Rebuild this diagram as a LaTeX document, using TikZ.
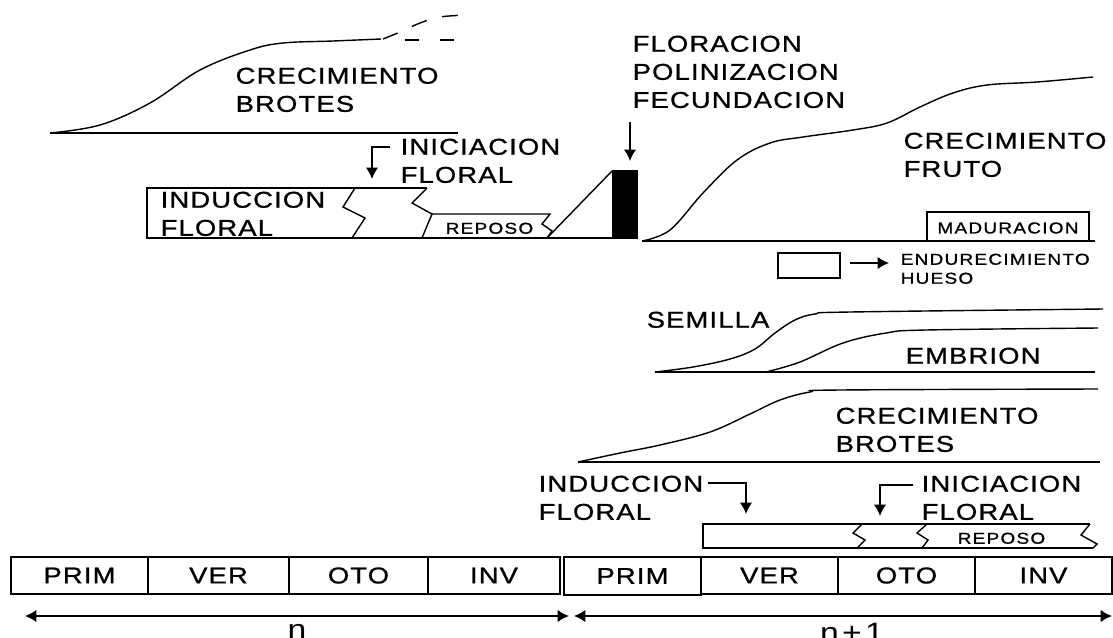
\documentclass[tikz,border=0pt]{standalone}
\usepackage{fontspec}
\usetikzlibrary{arrows.meta}
\newfontfamily\lblfam[FakeStretch=1.2,LetterSpace=5,FakeBold=1]{Liberation Sans}
\newfontfamily\smlfam[FakeStretch=1.2,LetterSpace=8,FakeBold=1]{Liberation Sans}
\newfontfamily\yrfam[FakeStretch=1.2,LetterSpace=12]{Liberation Sans}
\newcommand{\lblfont}{\lblfam\fontsize{13}{16}\selectfont}
\newcommand{\smlfont}{\smlfam\fontsize{9}{10.8}\selectfont}
\newcommand{\yrfont}{\yrfam\fontsize{16}{18}\selectfont}
\tikzset{
  lbl/.style={font=\lblfont,inner sep=0pt,align=left,anchor=north west},
  smllbl/.style={font=\smlfont,inner sep=0pt,align=left,anchor=north west},
  season/.style={font=\lblfont,inner sep=0pt},
  yearlbl/.style={font=\yrfont,inner sep=0pt,anchor=north},
  >={Latex[length=6.5pt,width=7pt]}
}

\begin{document}
\begin{tikzpicture}[x=0.02cm,y=-0.02cm,thick]
    \clip (0,0) rectangle (1113,637);

    % Draw shoot growth, year n
    \draw plot[smooth,tension=0.6] coordinates {(50,133) (100,125) (150,103) (200,70) (250,50) (283,43) (333,41) (381,39)};
    \draw (50,133) -- (458,133);
    \draw[dash pattern=on 9pt off 9pt] plot[smooth,tension=0.6] coordinates {(383,39) (400,32) (420,23) (440,17) (467,15)};
    \draw[dash pattern=on 8pt off 12pt] (405,40) -- (460,40);
    \node[lbl] (brotesA) at (235,67) {CRECIMIENTO\\BROTES};

    % Draw floral initiation, year n
    \node[lbl] (iniciacionA) at (400,138) {INICIACION\\FLORAL};
    \coordinate (iniA) at (390,147);
    \coordinate (iniTipA) at (372,179);
    \draw[->] (iniA) -| (iniTipA);

    % Draw induction box with breaks and rest
    \draw (427,188) -- (147,188) -- (147,238) -- (638,238);
    \draw (355,188) -- (343,207) -- (365,218) -- (352,238);
    \draw (427,188) -- (412,203) -- (432,214) -- (422,238);
    \draw (432,214) -- (550,214) -- (542,224) -- (552,231) -- (547,238);
    \node[lbl] (induccionA) at (160,191) {INDUCCION\\FLORAL};
    \node[smllbl] (reposoA) at (445,222) {REPOSO};

    % Draw flowering
    \draw (547,238) -- (612,171);
    \fill (612,170) rectangle (638,238);
    \node[lbl] (floracion) at (632,35) {FLORACION\\POLINIZACION\\FECUNDACION};
    \coordinate (florTop) at (630,122);
    \coordinate (florTip) at (630,161);
    \draw[->] (florTop) -- (florTip);

    % Draw fruit growth
    \draw plot[smooth,tension=0.6] coordinates {(642,241) (670,230) (703,193) (737,160) (770,143) (803,137) (853,130) (887,123) (920,107) (953,93) (987,85) (1037,82) (1093,77)};
    \draw (642,241) -- (1095,241);
    \node[lbl] (fruto) at (903,132) {CRECIMIENTO\\FRUTO};
    \draw (927,241) -- (927,212) -- (1089,212) -- (1089,241);
    \node[smllbl,anchor=center] (maduracion) at (1008,228) {MADURACION};

    % Draw pit hardening key
    \draw (778,253) rectangle (840,278);
    \coordinate (keyA) at (850,263);
    \coordinate (keyB) at (889,263);
    \draw[->] (keyA) -- (keyB);
    \node[smllbl] (hueso) at (900,253) {ENDURECIMIENTO\\HUESO};

    % Draw seed and embryo
    \draw plot[smooth,tension=0.6] coordinates {(655,372) (693,367) (730,359) (755,349) (775,333) (795,320) (815,314) (850,312) (1103,309)};
    \draw plot[smooth,tension=0.6] coordinates {(766,372) (800,362) (843,343) (886,333) (926,330) (1098,328)};
    \draw (655,372) -- (1095,372);
    \node[lbl] (semilla) at (646,311) {SEMILLA};
    \node[lbl] (embrion) at (905,347) {EMBRION};

    % Draw shoot growth, year n+1
    \draw plot[smooth,tension=0.6] coordinates {(578,462) (620,453) (660,445) (710,432) (750,414) (780,400) (810,392) (840,390) (1098,389)};
    \draw (578,462) -- (1100,462);
    \node[lbl] (brotesB) at (835,407) {CRECIMIENTO\\BROTES};

    % Draw induction and initiation, year n+1
    \node[lbl] (induccionB) at (538,475) {INDUCCION\\FLORAL};
    \coordinate (indB) at (708,483);
    \coordinate (indTipB) at (746,514);
    \draw[->] (indB) -| (indTipB);
    \node[lbl] (iniciacionB) at (921,475) {INICIACION\\FLORAL};
    \coordinate (iniB) at (913,485);
    \coordinate (iniTipB) at (880,516);
    \draw[->] (iniB) -| (iniTipB);

    % Draw rest box, year n+1
    \draw (1090,524) -- (703,524) -- (703,548) -- (1093,548);
    \draw (862,524) -- (853,533) -- (865,540) -- (857,548);
    \draw (927,524) -- (917,533) -- (928,540) -- (922,548);
    \draw (1090,524) -- (1081,535) -- (1097,544) -- (1093,548);
    \node[smllbl] (reposoB) at (957,532) {REPOSO};

    % Draw seasons
    \foreach \name/\xa/\xb [count=\i] in {PRIM/11/148,VER/148/289,OTO/289/428,INV/428/560}
      {\draw (\xa,557) rectangle (\xb,594);
       \node[season] (seasonA\i) at ({(\xa+\xb)/2},575.5) {\name};}
    \foreach \name/\xa/\xb [count=\i] in {VER/701/838,OTO/838/975,INV/975/1112}
      {\draw (\xa,557) rectangle (\xb,594);
       \node[season] (seasonB\i) at ({(\xa+\xb)/2},575.5) {\name};}
    \draw[line width=1.4pt] (564,557) rectangle (701,595);
    \node[season] (seasonB0) at (632.5,576) {PRIM};

    % Draw years
    \coordinate (yearAL) at (25,616);
    \coordinate (yearAR) at (569,616);
    \coordinate (yearBL) at (574,616);
    \coordinate (yearBR) at (1112,616);
    \draw[<->] (yearAL) -- (yearAR);
    \draw[<->] (yearBL) -- (yearBR);
    \node[yearlbl] (yearA) at (297,624) {n};
    \node[yearlbl] (yearB) at (852,622) {n+1};
\end{tikzpicture}
\end{document}
